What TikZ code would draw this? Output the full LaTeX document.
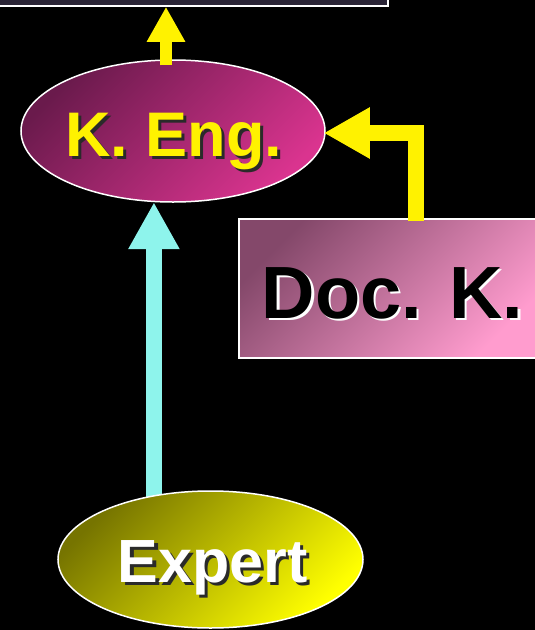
\documentclass[tikz,border=0pt]{standalone}
\usepackage{fontspec}
\setmainfont{Liberation Sans}
\usetikzlibrary{shapes.geometric,arrows.meta,calc}
\definecolor{kengA}{HTML}{6A1A4C}
\definecolor{kengB}{HTML}{DA348F}
\definecolor{docA}{HTML}{84486A}
\definecolor{docB}{HTML}{FF9CCE}
\definecolor{expA}{HTML}{767400}
\definecolor{expB}{HTML}{FFFF00}
\definecolor{topfill}{HTML}{2A2436}
\definecolor{cyanarrow}{HTML}{8EF4EC}
\definecolor{shadowc}{HTML}{2A2A2A}
\tikzset{
  ellbox/.style={ellipse, draw=white, line width=1.5pt, inner sep=0pt},
  bigfont/.style={font=\bfseries\fontsize{#1}{#1}\selectfont, inner sep=0pt, anchor=base},
  yarrowsmall/.style={draw=yellow, line width=12pt, -{Triangle[width=36pt,length=35pt]}},
  yarrowbig/.style={draw=yellow, line width=16pt, line join=miter, -{Triangle[width=48pt,length=46pt]}},
  carrow/.style={draw=cyanarrow, line width=16pt, -{Triangle[width=48pt,length=47pt]}}
}
\begin{document}
\begin{tikzpicture}[x=1pt,y=-1pt]
\fill[black] (0,0) rectangle (535,630);
\useasboundingbox (0,0) rectangle (535,630);

% top box (partially visible)
\node[rectangle, draw=white, line width=1.5pt, top color=topfill!60!black, bottom color=topfill, minimum width=394pt, minimum height=106pt, inner sep=0pt] (topbox) at (191,-47) {};

% Doc. K. box
\node[rectangle, draw=white, line width=1.5pt, top color=docA, bottom color=docB, shading angle=45, minimum width=301pt, minimum height=139pt, inner sep=0pt] (docbox) at (389.5,288.5) {};
\node[bigfont=74, text=white] (docshadow) at (395,320) {Doc. K.};
\node[bigfont=74, text=black] (doctext) at (392.5,318) {Doc. K.};

% K. Eng. ellipse
\node[ellbox, top color=kengA, bottom color=kengB, shading angle=45, minimum width=304pt, minimum height=142pt] (keng) at (173,131) {};
\node[bigfont=63, text=shadowc] (kengshadow) at (177,159) {K. Eng.};
\node[bigfont=63, text=yellow] (kengtext) at (174,156) {K. Eng.};

% cyan arrow (drawn before the Expert ellipse)
\draw[carrow] ([yshift=-10pt]keng.-105 |- 210,491) coordinate (cstart) -- (keng.-105);

% Expert ellipse
\node[ellbox, top color=expA, bottom color=expB, shading angle=45, minimum width=305pt, minimum height=137pt] (expert) at (210.5,559.5) {};
\node[bigfont=61, text=shadowc] (expshadow) at (216,585) {Expert};
\node[bigfont=61, text=white] (exptext) at (212.5,582) {Expert};

% yellow arrows
\coordinate (tx) at (166,0);
\draw[yarrowsmall] ([yshift=-6pt]tx |- keng.north) -- (tx |- topbox.south);
\coordinate (ex) at (416,0);
\coordinate (estart) at ([yshift=-3pt]ex |- docbox.north);
\coordinate (ecorner) at (ex |- 0,133);
\coordinate (etip) at ([xshift=-2pt]keng.east |- 0,133);
\draw[yarrowbig] (estart) -- (ecorner) -- (etip);
\end{tikzpicture}
\end{document}
